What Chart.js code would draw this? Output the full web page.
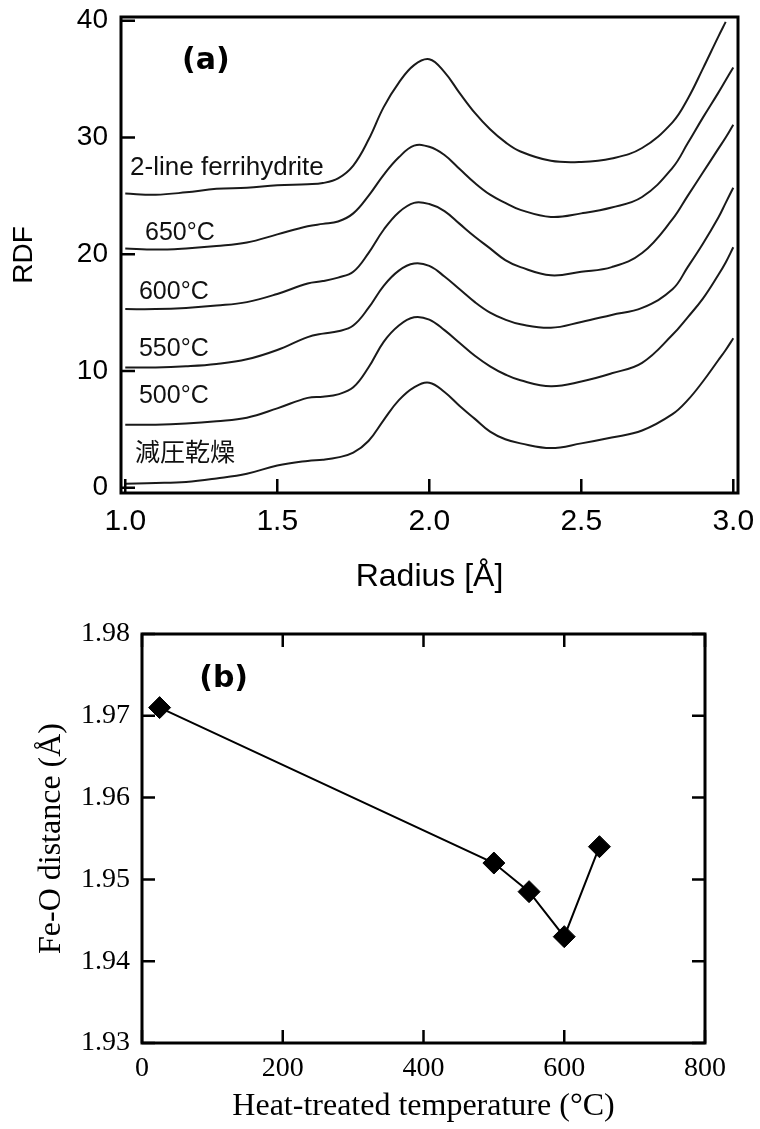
<!DOCTYPE html>
<html>
<head>
<meta charset="utf-8">
<script src="https://cdn.jsdelivr.net/npm/chart.js@4.4.0/dist/chart.umd.min.js"></script>
<style>
  html, body { margin: 0; padding: 0; background: #fff; }
  #wrap { position: relative; width: 760px; height: 1129px; }
  canvas { position: absolute; left: 0; }
  #rdfChart { top: 0; }
  #feoChart { top: 600px; }
</style>
</head>
<body>
<div id="wrap">
  <canvas id="rdfChart" width="760" height="600"></canvas>
  <canvas id="feoChart" width="760" height="529"></canvas>
</div>
<script>
// (a) RDF curves, one value per radius
const radius = [1.0, 1.1, 1.2, 1.3, 1.4, 1.5, 1.6, 1.65, 1.7, 1.75, 1.8, 1.85, 1.9, 1.95, 2.0,
  2.05, 2.1, 2.15, 2.2, 2.25, 2.3, 2.4, 2.5, 2.6, 2.7, 2.8, 2.85, 2.9, 2.95, 2.975, 3.0];
const rdfFerri = [25.2, 25.1, 25.3, 25.6, 25.7, 25.9, 26.0, 26.1, 26.5, 27.6, 29.8, 32.6, 34.7, 36.2, 36.7,
  35.6, 33.8, 32.1, 30.7, 29.6, 28.8, 28.0, 27.9, 28.2, 29.1, 31.3, 33.3, 35.9, 38.6, 39.9, null];
const rdf650 = [20.5, 20.4, 20.5, 20.7, 21.0, 21.7, 22.4, 22.6, 22.8, 23.5, 25.0, 26.8, 28.3, 29.3, 29.2,
  28.5, 27.3, 26.1, 25.1, 24.4, 23.8, 23.2, 23.5, 24.0, 24.9, 27.4, 29.5, 31.7, 33.8, 34.9, 36.0];
const rdf600 = [15.3, 15.3, 15.4, 15.6, 15.9, 16.6, 17.5, 17.7, 18.0, 18.5, 20.1, 22.1, 23.6, 24.4, 24.3,
  23.7, 22.6, 21.5, 20.5, 19.5, 18.9, 18.2, 18.5, 18.9, 20.1, 23.0, 25.0, 27.0, 29.0, 30.0, 31.1];
const rdf550 = [10.3, 10.3, 10.4, 10.6, 11.0, 11.8, 12.9, 13.2, 13.4, 13.9, 15.4, 17.3, 18.6, 19.2, 19.0,
  18.1, 17.0, 15.9, 15.0, 14.4, 14.0, 13.7, 14.2, 14.8, 15.4, 17.0, 18.9, 20.9, 23.1, 24.4, 25.7];
const rdf500 = [5.4, 5.4, 5.5, 5.7, 6.0, 6.8, 7.7, 7.8, 8.0, 8.6, 10.3, 12.5, 13.9, 14.6, 14.4,
  13.5, 12.4, 11.3, 10.4, 9.7, 9.2, 8.7, 9.1, 9.8, 10.7, 13.1, 14.6, 16.2, 18.2, 19.3, 20.6];
const rdfDry = [0.35, 0.4, 0.5, 0.8, 1.2, 1.9, 2.3, 2.4, 2.6, 3.0, 4.0, 5.8, 7.5, 8.6, 9.0,
  8.2, 7.0, 5.9, 4.8, 4.15, 3.8, 3.4, 3.8, 4.3, 4.9, 6.3, 7.5, 9.1, 10.9, 11.8, 12.8];
const curveNames = ['2-line ferrihydrite', '650°C', '600°C', '550°C', '500°C', '減圧乾燥'];
const radiusTicks = [1.0, 1.5, 2.0, 2.5, 3.0];
const rdfTicks = [0, 10, 20, 30, 40];

// (b) Fe-O distance vs heat-treatment temperature
const temps = [25, 500, 550, 600, 650];
const feoDist = [1.971, 1.952, 1.9485, 1.943, 1.954];
const tempTicks = [0, 200, 400, 600, 800];
const distTicks = [1.93, 1.94, 1.95, 1.96, 1.97, 1.98];

// where the curve names sit, in data units (left edge, baseline)
const namePos = [[1.016, 26.8], [1.065, 21.2], [1.045, 16.2], [1.045, 11.3], [1.045, 7.3], [1.032, 2.3]];

Chart.defaults.color = '#000';

function setTicks(list) {
  return scale => { scale.ticks = list.map(v => ({ value: v })); };
}

// fix an axis box size and drop the extra room Chart.js keeps for edge labels
function fixBox(prop, size) {
  return s => {
    s[prop] = size;
    s.paddingTop = 0; s.paddingBottom = 0; s.paddingLeft = 0; s.paddingRight = 0;
  };
}

// frame around the plot and ticks pointing inwards
function frameTicks(len, mirror) {
  return {
    id: 'frameTicks',
    afterDraw(chart) {
      const { ctx, chartArea: a, scales: { x, y } } = chart;
      ctx.save();
      ctx.strokeStyle = '#000';
      ctx.lineWidth = 3;
      ctx.strokeRect(a.left, a.top, a.right - a.left, a.bottom - a.top);
      ctx.lineWidth = 2.5;
      ctx.beginPath();
      x.ticks.forEach(t => {
        const px = x.getPixelForValue(t.value);
        ctx.moveTo(px, a.bottom); ctx.lineTo(px, a.bottom - len);
        if (mirror) { ctx.moveTo(px, a.top); ctx.lineTo(px, a.top + len); }
      });
      y.ticks.forEach(t => {
        const py = y.getPixelForValue(t.value);
        ctx.moveTo(a.left, py); ctx.lineTo(a.left + len, py);
        if (mirror) { ctx.moveTo(a.right, py); ctx.lineTo(a.right - len, py); }
      });
      ctx.stroke();
      ctx.restore();
    }
  };
}

function panelLabel(text, xv, yv) {
  return {
    id: 'panelLabel',
    afterDraw(chart) {
      const { ctx, scales: { x, y } } = chart;
      ctx.save();
      ctx.fillStyle = '#000';
      ctx.font = 'bold 30px "DejaVu Sans", sans-serif';
      ctx.textAlign = 'center';
      ctx.textBaseline = 'middle';
      ctx.fillText(text, x.getPixelForValue(xv), y.getPixelForValue(yv));
      ctx.restore();
    }
  };
}

const curveNamesPlugin = {
  id: 'curveNames',
  afterDraw(chart) {
    const { ctx, scales: { x, y } } = chart;
    ctx.save();
    ctx.fillStyle = '#111';
    ctx.textAlign = 'left';
    ctx.textBaseline = 'alphabetic';
    curveNames.forEach((name, i) => {
      if (i === 5) ctx.font = '25px "Noto Sans CJK JP", sans-serif';
      else ctx.font = (i === 0 ? '26px' : '25px') + ' "Liberation Sans", Arial, sans-serif';
      ctx.fillText(name, x.getPixelForValue(namePos[i][0]), y.getPixelForValue(namePos[i][1]));
    });
    ctx.restore();
  }
};

const series = [rdfFerri, rdf650, rdf600, rdf550, rdf500, rdfDry];

new Chart(document.getElementById('rdfChart'), {
  type: 'line',
  data: {
    datasets: series.map((vals, i) => ({
      label: curveNames[i],
      data: radius.map((r, j) => ({ x: r, y: vals[j] })).filter(p => p.y !== null),
      borderColor: '#1a1a1a',
      borderWidth: 2,
      pointRadius: 0,
      tension: 0.4,
      fill: false
    }))
  },
  options: {
    responsive: false,
    animation: false,
    devicePixelRatio: 1,
    layout: { padding: { top: 17, right: 22, left: 0, bottom: 0 } },
    plugins: { legend: { display: false }, tooltip: { enabled: false } },
    scales: {
      x: {
        type: 'linear',
        min: 0.986,
        max: 3.0155,
        afterBuildTicks: setTicks(radiusTicks),
        afterFit: fixBox('height', 107),
        grid: { display: false, drawTicks: false },
        border: { display: false },
        ticks: {
          padding: 11,
          font: { family: '"Liberation Sans", Arial, sans-serif', size: 30 },
          callback: v => v.toFixed(1)
        },
        title: {
          display: true,
          text: 'Radius [Å]',
          font: { family: '"Liberation Sans", Arial, sans-serif', size: 32 },
          padding: { top: 0, bottom: 4 }
        }
      },
      y: {
        type: 'linear',
        min: -0.45,
        max: 40.32,
        afterBuildTicks: setTicks(rdfTicks),
        afterFit: fixBox('width', 121),
        grid: { display: false, drawTicks: false },
        border: { display: false },
        ticks: {
          padding: 13,
          font: { family: '"Liberation Sans", Arial, sans-serif', size: 28 }
        },
        title: {
          display: true,
          text: 'RDF',
          font: { family: '"Liberation Sans", Arial, sans-serif', size: 28 },
          padding: { top: 7, bottom: 0 }
        }
      }
    }
  },
  plugins: [frameTicks(14, false), curveNamesPlugin, panelLabel('(a)', 1.265, 36.5)]
});

new Chart(document.getElementById('feoChart'), {
  type: 'line',
  data: {
    datasets: [{
      label: 'Fe-O distance',
      data: temps.map((t, i) => ({ x: t, y: feoDist[i] })),
      borderColor: '#000',
      borderWidth: 2,
      tension: 0,
      pointStyle: 'rectRot',
      pointRadius: 11,
      pointBackgroundColor: '#000',
      pointBorderColor: '#000',
      pointBorderWidth: 1,
      fill: false
    }]
  },
  options: {
    responsive: false,
    animation: false,
    devicePixelRatio: 1,
    layout: { padding: { top: 34, right: 55, left: 0, bottom: 0 } },
    plugins: { legend: { display: false }, tooltip: { enabled: false } },
    scales: {
      x: {
        type: 'linear',
        min: 0,
        max: 800,
        afterBuildTicks: setTicks(tempTicks),
        afterFit: fixBox('height', 86),
        grid: { display: false, drawTicks: false },
        border: { display: false },
        ticks: {
          padding: 9,
          font: { family: '"Liberation Serif", "Times New Roman", serif', size: 28 }
        },
        title: {
          display: true,
          text: 'Heat-treated temperature (°C)',
          font: { family: '"Liberation Serif", "Times New Roman", serif', size: 32 },
          padding: { top: 0, bottom: 3 }
        }
      },
      y: {
        type: 'linear',
        min: 1.93,
        max: 1.98,
        afterBuildTicks: setTicks(distTicks),
        afterFit: fixBox('width', 142),
        grid: { display: false, drawTicks: false },
        border: { display: false },
        ticks: {
          padding: 12,
          font: { family: '"Liberation Serif", "Times New Roman", serif', size: 28 },
          callback: v => v.toFixed(2)
        },
        title: {
          display: true,
          text: 'Fe-O distance (Å)',
          font: { family: '"Liberation Serif", "Times New Roman", serif', size: 32 },
          padding: { top: 32, bottom: 0 }
        }
      }
    }
  },
  plugins: [frameTicks(13, true), panelLabel('(b)', 116, 1.9745)]
});
</script>
</body>
</html>
